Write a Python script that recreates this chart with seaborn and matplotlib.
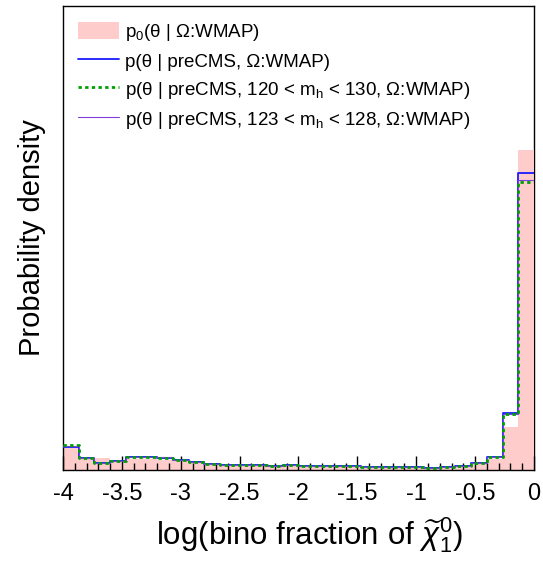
import numpy as np
import pandas as pd
import matplotlib
matplotlib.use("Agg")
import matplotlib.pyplot as plt
import seaborn as sns
from matplotlib.patches import Patch
from matplotlib.lines import Line2D

# ---- data (30 bins over log(bino fraction) in [-4, 0]) ----
bin_edges = list(np.linspace(-4.0, 0.0, 31))
bin_centers = [0.5 * (a + b) for a, b in zip(bin_edges[:-1], bin_edges[1:])]

p0_wmap = [22, 11, 12, 10, 11, 11, 10, 9, 7, 6,
           5, 5, 5, 4, 4.5, 4, 3.5, 3.5, 3.5, 3,
           3, 2.5, 2.5, 2, 3, 3.5, 6, 11, 43, 320]
pre_cms = [23, 12, 7, 9, 13, 13, 12, 10, 8, 6.5,
           5.5, 5.5, 5.5, 4.5, 5, 4, 4, 4, 4, 3.5,
           3, 3, 3, 2.5, 3.5, 3.7, 7.5, 13, 57, 297]
pre_cms_120_130 = [25, 12, 7, 9, 13, 13, 12, 10, 8, 6.5,
                   5.5, 5.5, 5.5, 4.5, 5, 4, 4, 4, 4, 3.5,
                   3, 3, 3, 2.5, 3.5, 3.7, 7.5, 13, 56, 288]
pre_cms_123_128 = [24, 12, 7, 9, 13, 13, 13, 10, 8, 6.5,
                   5.5, 5.5, 5.5, 4.5, 5, 4, 4, 4, 4, 3.5,
                   3, 3, 3, 2.5, 3.5, 3.7, 7.5, 13, 56, 290]

labels = [r"p$_\mathregular{0}$(θ | Ω:WMAP)",
          "p(θ | preCMS, Ω:WMAP)",
          r"p(θ | preCMS, 120 < m$_\mathregular{h}$ < 130, Ω:WMAP)",
          r"p(θ | preCMS, 123 < m$_\mathregular{h}$ < 128, Ω:WMAP)"]

xticks = [-4, -3.5, -3, -2.5, -2, -1.5, -1, -0.5, 0]
xticklabels = ["-4", "-3.5", "-3", "-2.5", "-2", "-1.5", "-1", "-0.5", "0"]

df = pd.DataFrame({"x": bin_centers, "p0": p0_wmap, "pre": pre_cms,
                   "m120": pre_cms_120_130, "m123": pre_cms_123_128})

sns.set_style("white")
plt.rcParams["font.family"] = ["Liberation Sans", "DejaVu Sans"]
plt.rcParams["mathtext.fontset"] = "custom"
plt.rcParams["mathtext.rm"] = "Liberation Sans"
plt.rcParams["mathtext.it"] = "Liberation Sans:italic"
plt.rcParams["mathtext.bf"] = "Liberation Sans:bold"
plt.rcParams["text.color"] = "black"
plt.rcParams["axes.labelcolor"] = "black"
plt.rcParams["xtick.color"] = "black"
plt.rcParams["ytick.color"] = "black"

pink = "#ffcccc"
blue = "#1a1aff"
green = "#00a000"
purple = "#8040e0"

fig = plt.figure(figsize=(5.43, 5.66), dpi=100)
ax = fig.add_axes([63 / 543, 96 / 566, 471 / 543, 464 / 566])

sns.histplot(data=df, x="x", weights="p0", bins=bin_edges, element="step",
             fill=True, alpha=1.0, color=pink, linewidth=0, ax=ax, zorder=2)
sns.histplot(data=df, x="x", weights="pre", bins=bin_edges, element="step",
             fill=False, color=blue, linewidth=1.3, ax=ax, zorder=3)
sns.histplot(data=df, x="x", weights="m123", bins=bin_edges, element="step",
             fill=False, color=purple, linewidth=0.8, ax=ax, zorder=4)
sns.histplot(data=df, x="x", weights="m120", bins=bin_edges, element="step",
             fill=False, color=green, linewidth=2.0, linestyle=(0, (1.2, 1.2)),
             ax=ax, zorder=5)

ax.set_xlim(-4, 0)
ax.set_ylim(0, 464)
ax.set_yticks([])
ax.set_xticks(xticks)
ax.set_xticklabels(xticklabels, fontsize=17)
ax.set_xticks(np.arange(-4, 0.001, 0.1), minor=True)
ax.tick_params(axis="x", which="major", direction="in", length=10, width=1,
               color="black", labelcolor="black", pad=9, bottom=True)
ax.tick_params(axis="x", which="minor", direction="in", length=5, width=1,
               color="black", bottom=True)
ax.set_axisbelow(False)
for s in ax.spines.values():
    s.set_color("black")
    s.set_linewidth(1.0)
ax.spines["right"].set_zorder(1.5)

ax.set_xlabel(r"log(bino fraction of $\widetilde{\chi}_{1}^{0}$)", fontsize=22.5,
              color="black")
ax.xaxis.set_label_coords(0.524, -0.097)
ax.set_ylabel("Probability density", fontsize=21, color="black")
ax.yaxis.set_label_coords(-0.037, 0.5)

handles = [Patch(facecolor=pink, edgecolor="none"),
           Line2D([], [], color=blue, linewidth=1.3),
           Line2D([], [], color=green, linewidth=2.0, linestyle=(0, (1.2, 1.2))),
           Line2D([], [], color=purple, linewidth=0.8)]
leg = fig.legend(handles, labels, loc="upper left",
                 bbox_to_anchor=(78 / 543, 1 - 22 / 566),
                 bbox_transform=fig.transFigure, frameon=False,
                 fontsize=13.5, handlelength=2.2, handleheight=1.0,
                 handletextpad=0.32, labelspacing=0.48, borderpad=0,
                 borderaxespad=0)
for t in leg.get_texts():
    t.set_color("black")

fig.savefig("out.png", dpi=100)
